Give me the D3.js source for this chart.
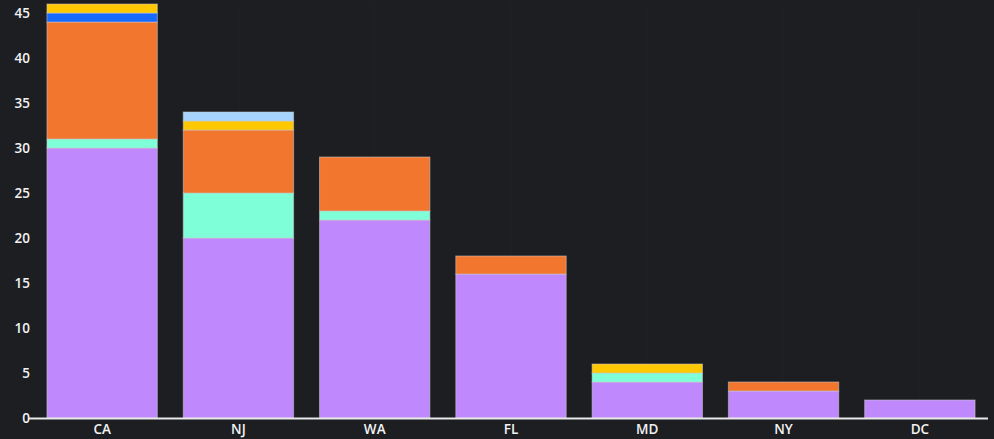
<!DOCTYPE html>
<html>
<head>
<meta charset="utf-8">
<script src="https://cdn.jsdelivr.net/npm/d3@7"></script>
<style>
  html, body { margin: 0; padding: 0; background: #1d1e22; }
  #chart text { font-family: "Open Sans", "DejaVu Sans", sans-serif; font-weight: 600; }
</style>
</head>
<body>
<div id="chart"></div>
<script>
const states = ['CA', 'NJ', 'WA', 'FL', 'MD', 'NY', 'DC'];
const seriesNames = ['A', 'B', 'C', 'D', 'E', 'F'];
const seriesColors = ['#bf88fc', '#7fffd8', '#f2762e', '#1769ff', '#ffc800', '#a6d4ff'];
// one value per state, same order as states
const valuesA = [30, 20, 22, 16, 4, 3, 2];
const valuesB = [1, 5, 1, 0, 1, 0, 0];
const valuesC = [13, 7, 6, 2, 0, 1, 0];
const valuesD = [1, 0, 0, 0, 0, 0, 0];
const valuesE = [1, 1, 0, 0, 1, 0, 0];
const valuesF = [0, 1, 0, 0, 0, 0, 0];
const yTicks = [0, 5, 10, 15, 20, 25, 30, 35, 40, 45];

const allValues = [valuesA, valuesB, valuesC, valuesD, valuesE, valuesF];
const table = states.map((s, i) => {
  const row = { state: s };
  seriesNames.forEach((n, k) => { row[n] = allValues[k][i]; });
  return row;
});

const w = 994;
const h = 439;
const margin = { top: 4, right: 6, bottom: 21, left: 34 };

const svg = d3.select('#chart')
  .append('svg')
  .attr('width', w)
  .attr('height', h);

const xScale = d3.scaleBand()
  .domain(states)
  .range([margin.left, w - margin.right])
  .paddingInner(0.19)
  .paddingOuter(0.095);

const yScale = d3.scaleLinear()
  .domain([0, 46])
  .range([h - margin.bottom, margin.top]);

// faint vertical grid at category centers
svg.append('g')
  .selectAll('line')
  .data(states)
  .enter()
  .append('line')
  .attr('x1', d => xScale(d) + xScale.bandwidth() / 2)
  .attr('x2', d => xScale(d) + xScale.bandwidth() / 2)
  .attr('y1', margin.top)
  .attr('y2', h - margin.bottom)
  .attr('stroke', '#212226')
  .attr('stroke-width', 1);

const stack = d3.stack().keys(seriesNames);
const layers = stack(table);

svg.append('g')
  .selectAll('g')
  .data(layers)
  .enter()
  .append('g')
  .attr('fill', (d, i) => seriesColors[i])
  .selectAll('rect')
  .data(d => d.filter(p => p[1] - p[0] > 0))
  .enter()
  .append('rect')
  .attr('x', d => xScale(d.data.state))
  .attr('y', d => yScale(d[1]))
  .attr('width', xScale.bandwidth())
  .attr('height', d => yScale(d[0]) - yScale(d[1]))
  .attr('stroke', 'rgba(200,200,200,0.55)')
  .attr('stroke-width', 1);

const xAxis = d3.axisBottom(xScale).tickSize(0).tickPadding(6);
const gx = svg.append('g')
  .attr('transform', 'translate(0,' + (h - margin.bottom) + ')')
  .call(xAxis);
gx.select('.domain').remove();
gx.selectAll('text').attr('fill', '#f2f2f2').style('font-size', '13.5px');

svg.append('line')
  .attr('x1', margin.left - 6)
  .attr('x2', w - margin.right)
  .attr('y1', yScale(0) + 0.5)
  .attr('y2', yScale(0) + 0.5)
  .attr('stroke', '#e8e8e8')
  .attr('stroke-width', 2);

const yAxis = d3.axisLeft(yScale).tickValues(yTicks).tickSize(0).tickPadding(4);
const gy = svg.append('g')
  .attr('transform', 'translate(' + margin.left + ',0)')
  .call(yAxis);
gy.select('.domain').remove();
gy.selectAll('text').attr('fill', '#f2f2f2').style('font-size', '13.5px');
</script>
</body>
</html>
